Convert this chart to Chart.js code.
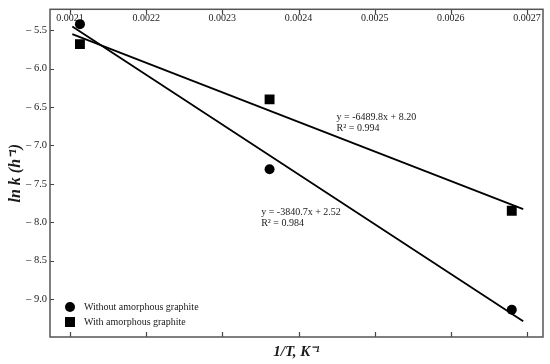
<!DOCTYPE html>
<html>
<head>
<meta charset="utf-8">
<script src="https://cdn.jsdelivr.net/npm/chart.js@4.4.1/dist/chart.umd.min.js"></script>
<style>
  body { margin: 0; background: #fff; }
  canvas { display: block; }
</style>
</head>
<body>
<canvas id="grafico" width="550" height="364"></canvas>
<script>
// Datos
const xTicks = [0.0021, 0.0022, 0.0023, 0.0024, 0.0025, 0.0026, 0.0027];
const yTicks = [-9.0, -8.5, -8.0, -7.5, -7.0, -6.5, -6.0, -5.5];

const invT = [0.002113, 0.002362, 0.00268];
const lnkSin = [-5.42, -7.31, -9.14];   // Without amorphous graphite
const lnkCon = [-5.68, -6.40, -7.85];   // With amorphous graphite

// Rectas de ajuste (extremos)
const ajusteX = [0.002103, 0.002695];
const ajusteSin = [-5.45, -9.29];
const ajusteCon = [-5.55, -7.83];

const nombresSeries = ['Without amorphous graphite', 'With amorphous graphite'];
const textoAjuste1 = ['y = -6489.8x + 8.20', 'R\u00b2 = 0.994'];
const textoAjuste2 = ['y = -3840.7x + 2.52', 'R\u00b2 = 0.984'];
// posición (en unidades de datos) de cada ecuación
const posAjuste1 = { x: 0.00245, y: -6.63 };
const posAjuste2 = { x: 0.002351, y: -7.865 };

const X_MIN = 0.0020737, X_MAX = 0.002721;
const Y_MIN = -9.494, Y_MAX = -5.2268;

const fuente = 'Liberation Serif, Times New Roman, serif';
const colorTexto = '#1a1a1a';

const puntos = (xs, ys) => xs.map((x, i) => ({ x: x, y: ys[i] }));

// Marco, marcas hacia dentro, ecuaciones y leyenda
const decoracion = {
    id: 'decoracion',
    afterDraw(chart) {
        const ctx = chart.ctx;
        const a = chart.chartArea;
        const sx = chart.scales.x;
        const sy = chart.scales.y;
        ctx.save();

        // marcas
        ctx.strokeStyle = '#444';
        ctx.lineWidth = 1.2;
        ctx.beginPath();
        xTicks.forEach(v => {
            const px = Math.round(sx.getPixelForValue(v)) + 0.5;
            ctx.moveTo(px, a.top); ctx.lineTo(px, a.top + 5);
            ctx.moveTo(px, a.bottom); ctx.lineTo(px, a.bottom - 5);
        });
        yTicks.forEach(v => {
            const py = Math.round(sy.getPixelForValue(v)) + 0.5;
            ctx.moveTo(a.left, py); ctx.lineTo(a.left + 4, py);
        });
        ctx.stroke();

        // marco
        ctx.strokeStyle = '#555';
        ctx.lineWidth = 1.5;
        ctx.strokeRect(a.left, a.top, a.right - a.left, a.bottom - a.top);

        // ecuaciones
        ctx.fillStyle = colorTexto;
        ctx.font = '10px ' + fuente;
        ctx.textAlign = 'left';
        ctx.textBaseline = 'middle';
        [[textoAjuste1, posAjuste1], [textoAjuste2, posAjuste2]].forEach(([lineas, p]) => {
            const px = sx.getPixelForValue(p.x);
            const py = sy.getPixelForValue(p.y);
            lineas.forEach((t, i) => ctx.fillText(t, px, py + i * 11.5));
        });

        // leyenda
        const lx = a.left + 20;
        const ly = a.bottom - 30;
        ctx.fillStyle = '#000';
        ctx.beginPath();
        ctx.arc(lx, ly, 5, 0, Math.PI * 2);
        ctx.fill();
        ctx.fillRect(lx - 5, ly + 15 - 5, 10, 10);
        ctx.fillStyle = colorTexto;
        ctx.font = '10px ' + fuente;
        nombresSeries.forEach((n, i) => ctx.fillText(n, lx + 14, ly + i * 15));

        ctx.restore();
    }
};

new Chart(document.getElementById('grafico'), {
    type: 'scatter',
    data: {
        datasets: [
            {
                type: 'line',
                data: puntos(ajusteX, ajusteSin),
                borderColor: '#000',
                borderWidth: 1.8,
                pointRadius: 0
            },
            {
                type: 'line',
                data: puntos(ajusteX, ajusteCon),
                borderColor: '#000',
                borderWidth: 1.8,
                pointRadius: 0
            },
            {
                label: nombresSeries[0],
                data: puntos(invT, lnkSin),
                pointStyle: 'circle',
                pointRadius: 5,
                backgroundColor: '#000',
                borderColor: '#000',
                borderWidth: 0
            },
            {
                label: nombresSeries[1],
                data: puntos(invT, lnkCon),
                pointStyle: 'rect',
                pointRadius: 7,
                backgroundColor: '#000',
                borderColor: '#000',
                borderWidth: 0
            }
        ]
    },
    options: {
        responsive: false,
        animation: false,
        layout: { padding: { left: 0, right: 7, top: 0, bottom: 0 } },
        plugins: {
            legend: { display: false },
            tooltip: { enabled: false }
        },
        scales: {
            x: {
                type: 'linear',
                position: 'bottom',
                min: X_MIN,
                max: X_MAX,
                afterFit: s => { s.height = 27; },
                grid: { display: false },
                border: { display: false },
                ticks: { display: false },
                title: {
                    display: true,
                    text: '1/T, K\u207b\u00b9',
                    color: colorTexto,
                    padding: { top: 0, bottom: 3 },
                    font: { family: fuente, size: 15, weight: 'bold', style: 'italic' }
                }
            },
            x2: {
                type: 'linear',
                position: 'top',
                min: X_MIN,
                max: X_MAX,
                afterFit: s => { s.height = 9; },
                afterBuildTicks: s => { s.ticks = xTicks.map(v => ({ value: v })); },
                grid: { display: false },
                border: { display: false },
                ticks: {
                    mirror: true,
                    padding: 3,
                    autoSkip: false,
                    maxRotation: 0,
                    color: colorTexto,
                    font: { family: fuente, size: 10 },
                    callback: v => v.toFixed(4)
                }
            },
            y: {
                type: 'linear',
                min: Y_MIN,
                max: Y_MAX,
                afterFit: s => { s.width = 50; },
                afterBuildTicks: s => { s.ticks = yTicks.map(v => ({ value: v })); },
                grid: { display: false, drawTicks: false },
                border: { display: false },
                ticks: {
                    padding: 3,
                    color: colorTexto,
                    font: { family: fuente, size: 10.5 },
                    callback: v => '\u2013 ' + Math.abs(v).toFixed(1)
                },
                title: {
                    display: true,
                    text: 'ln k (h\u207b\u00b9)',
                    color: colorTexto,
                    padding: { top: 6, bottom: 0 },
                    font: { family: fuente, size: 16, weight: 'bold', style: 'italic' }
                }
            }
        }
    },
    plugins: [decoracion]
});
</script>
</body>
</html>
